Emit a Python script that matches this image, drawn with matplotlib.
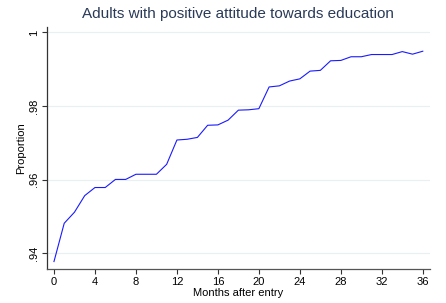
import matplotlib
matplotlib.use("Agg")
import matplotlib.pyplot as plt

plt.rcParams['font.family'] = ['Liberation Sans', 'DejaVu Sans']

months = list(range(37))
proportion = [0.9378, 0.9482, 0.9512, 0.9557, 0.9579, 0.9579, 0.9601, 0.9601,
              0.9615, 0.9615, 0.9615, 0.9642, 0.9708, 0.9710, 0.9715, 0.9748,
              0.9749, 0.9762, 0.9789, 0.9790, 0.9793, 0.9852, 0.9855, 0.9868,
              0.9874, 0.9895, 0.9897, 0.9923, 0.9924, 0.9934, 0.9934, 0.9940,
              0.9940, 0.9940, 0.9948, 0.9941, 0.9949]
xticks = list(range(0, 37, 4))
yticks = [0.94, 0.96, 0.98, 1.0]
ytick_labels = ['.94', '.96', '.98', '1']
title = "Adults with positive attitude towards education"
xlabel = "Months after entry"
ylabel = "Proportion"

fig = plt.figure(figsize=(4.46, 3.03), dpi=100)
ax = fig.add_axes([0.1054, 0.1112, 0.8586, 0.8])

ax.plot(months, proportion, color='#1a1aff', lw=0.8)
ax.set_xlim(-0.68, 36.7)
ax.set_ylim(0.9357, 1.0015)
ax.set_xticks(xticks)
ax.set_yticks(yticks)
ax.set_yticklabels(ytick_labels, rotation=90, va='center')
ax.tick_params(axis='both', labelsize=8, length=3.5, width=0.8, color='#333333', pad=2)
ax.grid(axis='y', color='#e8f0f2', lw=0.9)
ax.set_axisbelow(True)
for s in ['top', 'right']:
    ax.spines[s].set_visible(False)
ax.spines['left'].set_color('#333333')
ax.spines['bottom'].set_color('#555555')
ax.spines['left'].set_linewidth(0.9)
ax.spines['bottom'].set_linewidth(0.9)
ax.set_xlabel(xlabel, fontsize=8, labelpad=0.5)
ax.set_ylabel(ylabel, fontsize=8, labelpad=2)
fig.text(0.534, 0.955, title, ha='center', va='center', fontsize=11, color='#2a3a58')

fig.savefig('out.png', dpi=100)
